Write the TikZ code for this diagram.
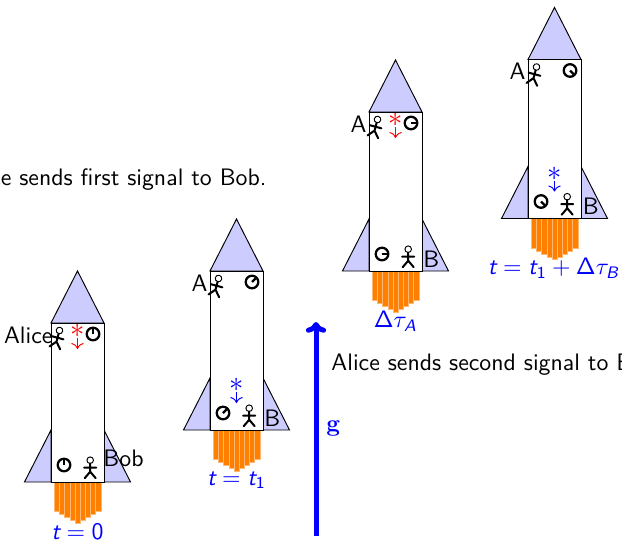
\documentclass[tikz,border=0pt]{standalone}
\usepackage{amsmath}
\usetikzlibrary{arrows.meta}

\tikzset{
  pics/stickman/.style={code={
    \draw[line width=0.4pt] (0,0) circle (3.3);
    \draw[figline] (0,-3.3) -- (0,-11.5) (-6,-7.5) -- (6,-7.5)
                   (-5.5,-18) -- (0,-11.5) -- (5.5,-18);
  }},
  pics/clock/.style={code={
    \draw[clockline] (0,0) circle (6.3);
    \draw[clockline] (0,0) -- (#1:5.3);
  }},
}
% slanted sans letters for the time stamps
\newcommand{\tv}[1]{\textsl{#1}}

\begin{document}
\begin{tikzpicture}[x=0.42pt, y=0.42pt, font=\sffamily,
    hull/.style={draw=black, line width=0.4pt},
    wing/.style={hull, fill=blue!20},
    flame/.style={fill=orange, draw=orange!55!white, line width=0.3pt},
    figline/.style={line width=0.85pt, line cap=round},
    clockline/.style={line width=0.95pt},
    who/.style={inner sep=0pt},
    photon/.style={inner sep=0pt, font=\large},
    signal/.style={->, line width=0.4pt},
    tlabel/.style={text=blue, font=\sffamily},
    gravity/.style={-{To[length=4.5pt,width=8.5pt]}, draw=blue, line width=2.1pt}
]
\useasboundingbox (0,0) rectangle (622,542);
\clip (0,0) rectangle (622,542);

% the four rockets, one above the other as time goes on
\foreach \r/\x/\y/\ang in {1/77.5/60/90, 2/236.5/112/45, 3/395.5/271/0, 4/554.5/323.5/-45}{
  \begin{scope}[shift={(\x,\y)}]
    % exhaust
    \foreach \w/\d in {23.5/29.5, 18.3/32.5, 13.3/35.5, 7.5/38.5, 2.5/41}
      \filldraw[flame] (-\w,0) rectangle (\w,-\d);
    % fins and nose
    \filldraw[wing] (-26.5,52) -- (-53,0) -- (-26.5,0) -- cycle;
    \filldraw[wing] (26.5,52) -- (53,0) -- (26.5,0) -- cycle;
    \filldraw[wing] (-26.5,159) -- (0,211) -- (26.5,159) -- cycle;
    % cabin
    \filldraw[hull, fill=white] (-26.5,0) rectangle (26.5,159);
    \pic[rotate=-15] at (-18,151.5) {stickman};
    \pic at (12.7,21.8) {stickman};
    \pic at (15.5,148) {clock=\ang};
    \pic at (-13.5,17) {clock=\ang};
  \end{scope}
}

% who is where
\node[who, anchor=east] (alice) at (53,207) {Alice};
\node[who, anchor=west] (bob) at (103,83.5) {Bob};
\node[who, anchor=east] (a2) at (208,259) {A};
\node[who, anchor=west] (b2) at (264,124) {B};
\node[who, anchor=east] (a3) at (367,418) {A};
\node[who, anchor=west] (b3) at (423,283) {B};
\node[who, anchor=east] (a4) at (526,470.5) {A};
\node[who, anchor=west] (b4) at (582.5,335.5) {B};

% light signals
\node[photon, text=red] (ph1) at (77.5,211) {$\ast$};
\coordinate (ph1end) at (77.5,193);
\draw[signal, red] (ph1.south) -- (ph1end);
\node[photon, text=blue] (ph2) at (236.5,157) {$\ast$};
\coordinate (ph2end) at (236.5,139);
\draw[signal, blue] (ph2.south) -- (ph2end);
\node[photon, text=red] (ph3) at (395.5,422) {$\ast$};
\coordinate (ph3end) at (395.5,404);
\draw[signal, red] (ph3.south) -- (ph3end);
\node[photon, text=blue] (ph4) at (554.5,368.5) {$\ast$};
\coordinate (ph4end) at (554.5,350.5);
\draw[signal, blue] (ph4.south) -- (ph4end);

% times
\node[tlabel] (t0) at (77.5,10) {$\tv{t}=\mathsf{0}$};
\node[tlabel] (t1) at (236.5,62) {$\tv{t}=\tv{t}_{\mathsf{1}}$};
\node[tlabel] (dtA) at (395.5,221) {$\mathsf{\Delta}\tau_{\tv{A}}$};
\node[tlabel] (t2) at (553.5,273.5) {$\tv{t}=\tv{t}_{\mathsf{1}}+\mathsf{\Delta}\tau_{\tv{B}}$};

% captions
\node[who, anchor=base east] (first) at (267,357) {Alice sends first signal to Bob.};
\node[who, anchor=base west] (second) at (331,172) {Alice sends second signal to Bob.};

% gravity
\coordinate (gtail) at (316,6);
\coordinate (ghead) at (316,220);
\draw[gravity] (gtail) -- node[right, text=blue] {$\mathbf{g}$} (ghead);

\end{tikzpicture}
\end{document}
